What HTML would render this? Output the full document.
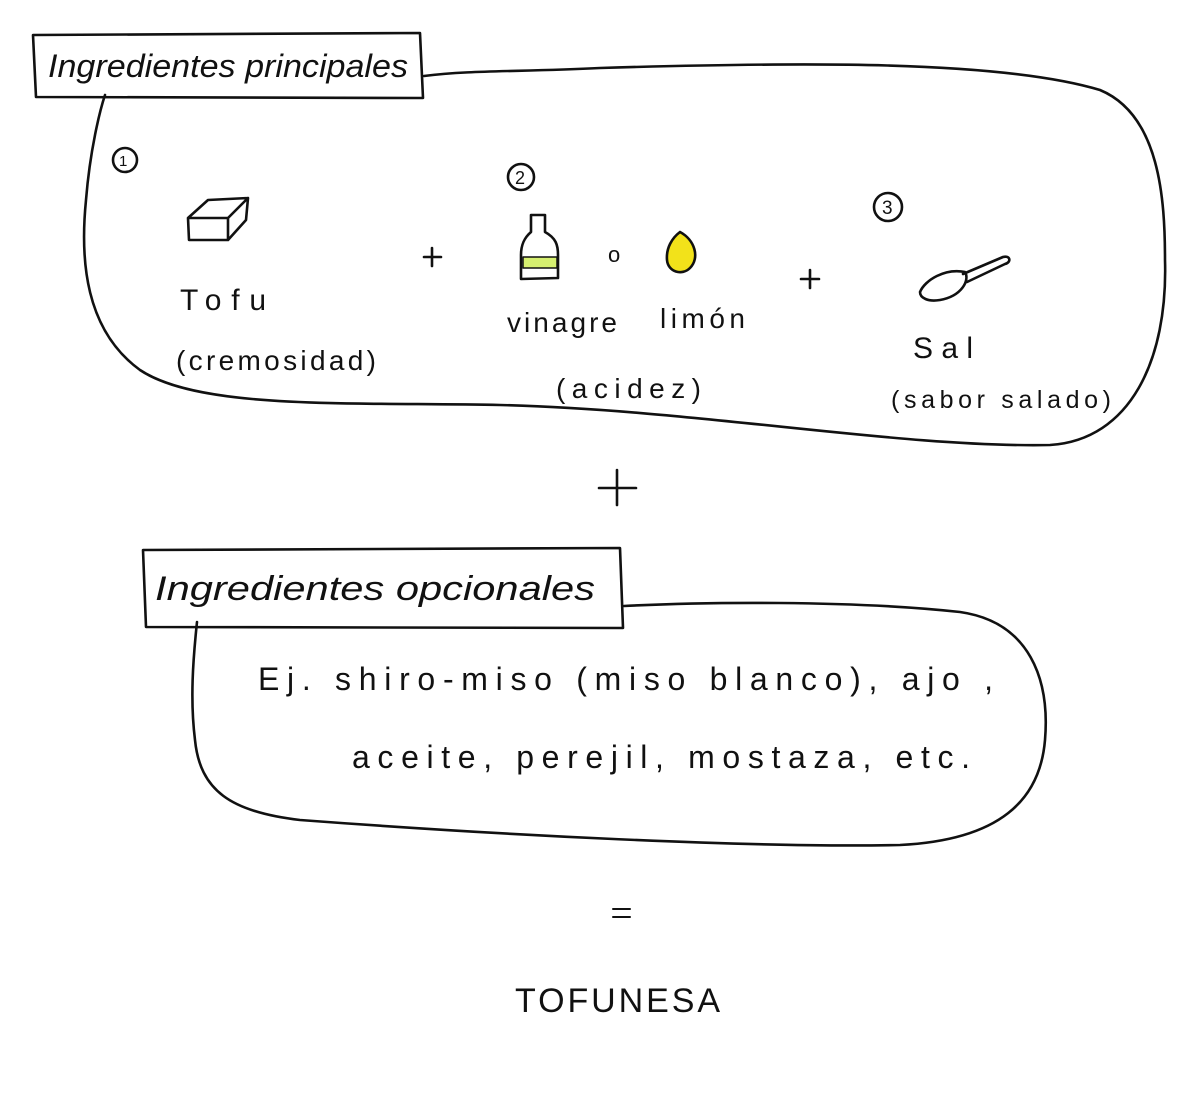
<!DOCTYPE html>
<html><head><meta charset="utf-8"><style>
html,body{margin:0;padding:0;background:#fff;}
svg{display:block}
text{font-family:"Liberation Sans",sans-serif;fill:#111;}
</style></head><body>
<svg width="1200" height="1100" viewBox="0 0 1200 1100" xmlns="http://www.w3.org/2000/svg">
<g fill="none" stroke="#111" stroke-width="2.6" stroke-linecap="round" stroke-linejoin="round">
<path d="M33,35 L420,33 L423,98 L36,97 Z"/>
<path d="M424,76 C470,70 520,72 600,68 C800,62 1000,60 1100,90 C1160,115 1165,200 1165,260 C1168,360 1130,440 1050,445 C900,448 700,410 500,405 C350,402 200,410 140,370 C85,330 80,260 86,200 C90,150 100,110 105,95"/>
<path d="M143,550 L620,548 L623,628 L146,627 Z"/>
<path d="M624,606 C700,602 850,600 960,612 C1030,622 1050,680 1045,740 C1040,800 1000,840 900,845 C750,848 500,835 300,820 C230,812 200,790 195,740 C190,700 193,660 197,622"/>
<circle cx="125" cy="160" r="12"/><circle cx="521" cy="177" r="13"/><circle cx="888" cy="207" r="14"/>
<path d="M188,218 L208,200 L248,198 L246,220 L228,240 L189,240 Z M188,218 L228,218 L228,240 M228,218 L248,198"/>
<path d="M531,215 L545,215 L545,232 C556,238 558,245 558,255 L558,278 L521,279 L521,255 C521,245 524,238 531,232 Z"/>
<rect x="523" y="257" width="34" height="11" fill="#d6f070" stroke-width="1.5"/>
<path d="M680,232 C695,240 700,258 690,268 C682,276 668,272 667,260 C666,248 672,238 680,232 Z" fill="#f2e21a"/>
<path d="M920,292 C925,280 945,268 965,272 C970,280 962,296 940,300 C928,302 920,298 920,292 Z M963,274 L1003,257 C1010,255 1012,262 1005,264 L967,282"/>
<path d="M424,257 L441,257 M432,248 L432,266"/>
<path d="M801,279 L819,279 M810,270 L810,288"/>
<path d="M599,488 L636,488 M617,470 L617,505"/>
<path d="M613,909 L630,909 M613,917 L630,917" stroke-width="2"/>
</g>
<text x="119" y="166" font-size="15">1</text>
<text x="515" y="184" font-size="18">2</text>
<text x="882" y="214" font-size="19">3</text>
<text x="48" y="77" font-size="32" font-style="italic" textLength="360" lengthAdjust="spacingAndGlyphs">Ingredientes principales</text>
<text x="180" y="310" font-size="30" textLength="86">Tofu</text>
<text x="176" y="370" font-size="28" textLength="200">(cremosidad)</text>
<text x="608" y="262" font-size="22">o</text>
<text x="507" y="332" font-size="28" textLength="110">vinagre</text>
<text x="660" y="328" font-size="28" textLength="85">limón</text>
<text x="556" y="398" font-size="28" textLength="145">(acidez)</text>
<text x="913" y="358" font-size="30" textLength="60">Sal</text>
<text x="891" y="408" font-size="25" textLength="220">(sabor salado)</text>
<text x="155" y="600" font-size="34" font-style="italic" textLength="440" lengthAdjust="spacingAndGlyphs">Ingredientes opcionales</text>
<text x="258" y="690" font-size="32" textLength="735">Ej.  shiro-miso (miso blanco), ajo ,</text>
<text x="352" y="768" font-size="32" textLength="618">aceite, perejil, mostaza, etc.</text>
<text x="515" y="1012" font-size="34" textLength="205">TOFUNESA</text>
</svg>
</body></html>
